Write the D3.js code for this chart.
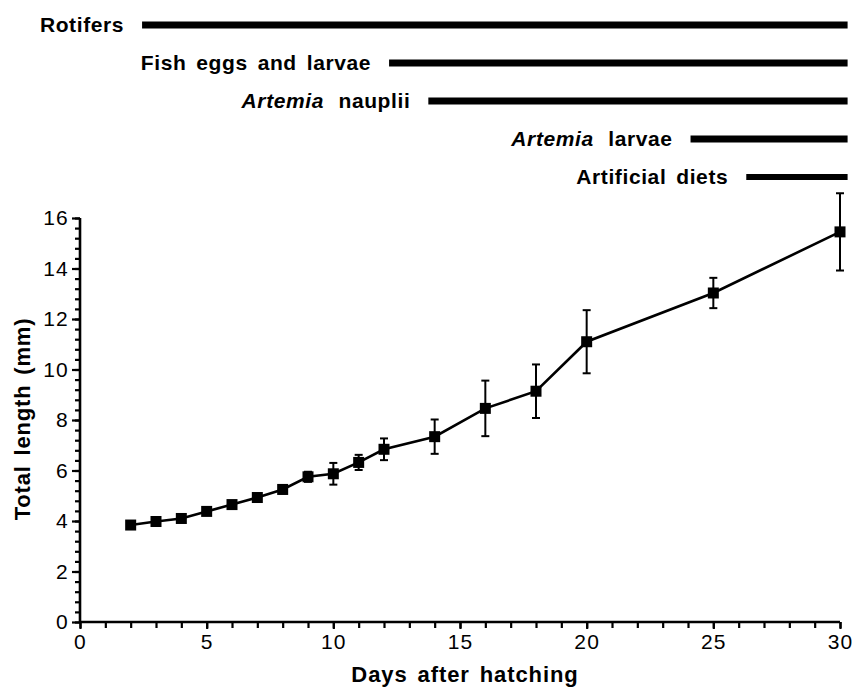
<!DOCTYPE html>
<html>
<head>
<meta charset="utf-8">
<script src="https://cdn.jsdelivr.net/npm/d3@7"></script>
<style>
  html, body { margin: 0; padding: 0; background: #fff; }
  svg { display: block; }
  .tick text { font-family: "Liberation Sans", Arial, sans-serif; }
</style>
</head>
<body>
<svg id="chart" width="854" height="688"></svg>
<script>
// Growth in total length (mean ± SD) by days after hatching
const days    = [2, 3, 4, 5, 6, 7, 8, 9, 10, 11, 12, 14, 16, 18, 20, 25, 30];
const lengths = [3.84, 3.98, 4.1, 4.38, 4.65, 4.93, 5.25, 5.75, 5.87, 6.32, 6.84, 7.34, 8.46, 9.14, 11.1, 13.03, 15.45];
const sds     = [0.08, 0.08, 0.1, 0.1, 0.1, 0.14, 0.16, 0.2, 0.43, 0.3, 0.43, 0.68, 1.1, 1.06, 1.25, 0.6, 1.53];

// Feeding schedule: food items and the day each one starts / ends
const foods     = ["Rotifers", "Fish eggs and larvae", "Artemia nauplii", "Artemia larvae", "Artificial diets"];
const foodStart = [2.45, 12.2, 13.75, 24.1, 26.3];
const foodEnd   = [30.3, 30.3, 30.3, 30.3, 30.3];

const xTicks = [0, 5, 10, 15, 20, 25, 30];
const yTicks = [0, 2, 4, 6, 8, 10, 12, 14, 16];

const svg = d3.select("#chart");
const x = d3.scaleLinear().domain([0, 30]).range([80, 840]);
const y = d3.scaleLinear().domain([0, 16]).range([622, 218]);

const FONT = '"Liberation Sans", Arial, Helvetica, sans-serif';

// ---- feeding schedule bars ----
const rowY = d3.scalePoint().domain(foods).range([25, 177]);
const sched = svg.append("g");
foods.forEach((f, i) => {
  const yy = rowY(f);
  const genus = f.startsWith("Artemia");
  sched.append("line")
    .attr("x1", x(foodStart[i])).attr("x2", x(foodEnd[i]))
    .attr("y1", yy).attr("y2", yy)
    .attr("stroke", "#000").attr("stroke-width", i === 4 ? 6 : 7);
  const t = sched.append("text")
    .attr("x", x(foodStart[i]) - 18).attr("y", yy + 7)
    .attr("text-anchor", "end")
    .attr("font-family", FONT).attr("font-weight", "bold")
    .attr("font-size", 21).attr("letter-spacing", 0.6)
    .attr("word-spacing", genus ? 8 : 3.5)
    .attr("fill", "#000");
  if (genus) {
    t.append("tspan").attr("font-style", "italic").text("Artemia");
    t.append("tspan").text(" " + f.slice(8));
  } else {
    t.text(f);
  }
});

// ---- axes ----
const axisBase = svg.append("g");

// x axis: minor ticks every day, labelled major ticks every 5 days
axisBase.append("g").attr("transform", `translate(0,${y(0)})`)
  .call(d3.axisBottom(x).tickValues(d3.range(0, 31, 1)).tickSize(6).tickFormat(""))
  .call(g => g.select(".domain").remove());
const gx = axisBase.append("g").attr("transform", `translate(0,${y(0)})`)
  .call(d3.axisBottom(x).tickValues(xTicks).tickSize(7).tickPadding(5).tickFormat(d3.format("d")));
gx.select(".domain").attr("d", `M${x(0)},0H${x(30)}`).attr("stroke-width", 2.6);
gx.selectAll("text").attr("font-size", 21).attr("letter-spacing", 1.2).attr("fill", "#000");

// y axis: minor ticks every 0.4 mm, labelled major ticks every 2 mm
axisBase.append("g").attr("transform", `translate(${x(0)},0)`)
  .call(d3.axisLeft(y).tickValues(d3.range(0, 16.01, 0.4)).tickSize(5).tickFormat(""))
  .call(g => g.select(".domain").remove());
const gy = axisBase.append("g").attr("transform", `translate(${x(0)},0)`)
  .call(d3.axisLeft(y).tickValues(yTicks).tickSize(8).tickPadding(3).tickFormat(d3.format("d")));
gy.select(".domain").attr("d", `M0,${y(0)}V${y(16)}`).attr("stroke-width", 2.6);
gy.selectAll("text").attr("font-size", 21).attr("letter-spacing", 1.2).attr("fill", "#000");

axisBase.selectAll(".tick line").attr("stroke-width", 2.2).attr("stroke", "#000");
axisBase.selectAll(".domain").attr("stroke", "#000");

// axis titles
svg.append("text")
  .attr("x", 465).attr("y", 682)
  .attr("text-anchor", "middle")
  .attr("font-family", FONT).attr("font-weight", "bold").attr("font-size", 22)
  .attr("letter-spacing", 0.9).attr("word-spacing", 3)
  .text("Days after hatching");

svg.append("text")
  .attr("transform", `translate(30,${419}) rotate(-90)`)
  .attr("text-anchor", "middle")
  .attr("font-family", FONT).attr("font-weight", "bold").attr("font-size", 22)
  .attr("letter-spacing", 0.8).attr("word-spacing", 3)
  .text("Total length (mm)");

// ---- growth curve ----
const pts = days.map((d, i) => ({ d, v: lengths[i], s: sds[i] }));

svg.append("path")
  .datum(pts)
  .attr("fill", "none").attr("stroke", "#000").attr("stroke-width", 2.6)
  .attr("d", d3.line().x(p => x(p.d)).y(p => y(p.v)));

const eb = svg.append("g").attr("stroke", "#000").attr("stroke-width", 2);
pts.forEach(p => {
  eb.append("line").attr("x1", x(p.d)).attr("x2", x(p.d))
    .attr("y1", y(p.v - p.s)).attr("y2", y(p.v + p.s));
  [p.v - p.s, p.v + p.s].forEach(v => {
    eb.append("line").attr("x1", x(p.d) - 4).attr("x2", x(p.d) + 4)
      .attr("y1", y(v)).attr("y2", y(v));
  });
});

svg.append("g").selectAll("rect").data(pts).join("rect")
  .attr("x", p => x(p.d) - 5.5).attr("y", p => y(p.v) - 5.5)
  .attr("width", 11).attr("height", 11)
  .attr("fill", "#000");
</script>
</body>
</html>
